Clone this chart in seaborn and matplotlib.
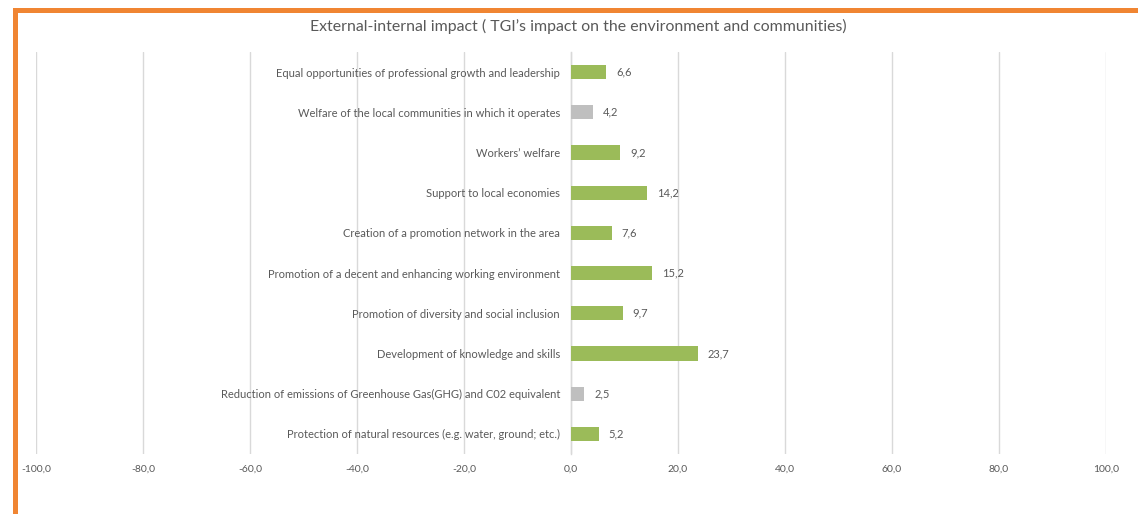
import matplotlib
matplotlib.use("Agg")
import matplotlib.pyplot as plt
import seaborn as sns
import pandas as pd
from matplotlib.patches import Rectangle
from matplotlib.ticker import FixedLocator, FuncFormatter

categories = [
    "Equal opportunities of professional growth and leadership",
    "Welfare of the local communities in which it operates",
    "Workers’ welfare",
    "Support to local economies",
    "Creation of a promotion network in the area",
    "Promotion of a decent and enhancing working environment",
    "Promotion of diversity and social inclusion",
    "Development of knowledge and skills",
    "Reduction of emissions of Greenhouse Gas(GHG) and C02 equivalent",
    "Protection of natural resources (e.g. water, ground; etc.)",
]
values = [6.6, 4.2, 9.2, 14.2, 7.6, 15.2, 9.7, 23.7, 2.5, 5.2]
groups = ["green", "grey", "green", "green", "green", "green", "green", "green", "grey", "green"]
x_ticks = [-100, -80, -60, -40, -20, 0, 20, 40, 60, 80, 100]
title = "External-internal impact ( TGI’s impact on the environment and communities)"

palette = {"green": "#9BBB59", "grey": "#BFBFBF"}
text_color = "#595959"

sns.set_theme(style="white")
plt.rcParams["font.family"] = ["Lato", "DejaVu Sans"]

df = pd.DataFrame({"category": categories, "value": values, "group": groups})

fig = plt.figure(figsize=(11.38, 5.14), dpi=100)
W, H = 1138, 514
ax = fig.add_axes([36 / W, 1 - 454 / H, (1106 - 36) / W, (454 - 52) / H])

sns.barplot(data=df, y="category", x="value", hue="group", palette=palette,
            order=categories, orient="h", width=0.35, dodge=False, saturation=1,
            linewidth=0, legend=False, ax=ax)

ax.set_xlim(-100, 100)
ax.set_ylim(len(categories) - 0.5, -0.5)
ax.xaxis.set_major_locator(FixedLocator(x_ticks))
ax.xaxis.set_major_formatter(FuncFormatter(lambda v, p: f"{v:.1f}".replace(".", ",")))
ax.grid(axis="x", color="#D9D9D9", linewidth=1)
ax.grid(axis="y", visible=False)
ax.set_axisbelow(True)
for s in ["top", "right", "bottom"]:
    ax.spines[s].set_visible(False)
ax.spines["left"].set_position(("data", 0))
ax.spines["left"].set_color("#D9D9D9")
ax.spines["left"].set_linewidth(1)
ax.spines["left"].set_zorder(0.5)

ax.tick_params(axis="x", length=0, pad=8, labelsize=7.5, labelcolor=text_color)
ax.tick_params(axis="y", which="major", length=0, pad=8, labelsize=8, labelcolor=text_color)
ax.yaxis.set_minor_locator(FixedLocator([i + 0.5 for i in range(-1, len(categories))]))
ax.tick_params(axis="y", which="minor", length=5, width=1, color="#D9D9D9", direction="out")
ax.set_xlabel("")
ax.set_ylabel("")

for cont in ax.containers:
    ax.bar_label(cont, labels=[f"{v:.1f}".replace(".", ",") for v in cont.datavalues],
                 padding=7, fontsize=8, color=text_color)

fig.text(578 / W, 1 - 26 / H, title, ha="center", va="center", fontsize=11.4, color=text_color)

orange = "#F08532"
fig.add_artist(Rectangle((14.5 / W, -0.2), 2.0, 1.2 - 9.5 / H, transform=fig.transFigure,
                         fill=False, edgecolor=orange, linewidth=3.6, clip_on=False))

fig.savefig("out.png", dpi=100, facecolor="white")
